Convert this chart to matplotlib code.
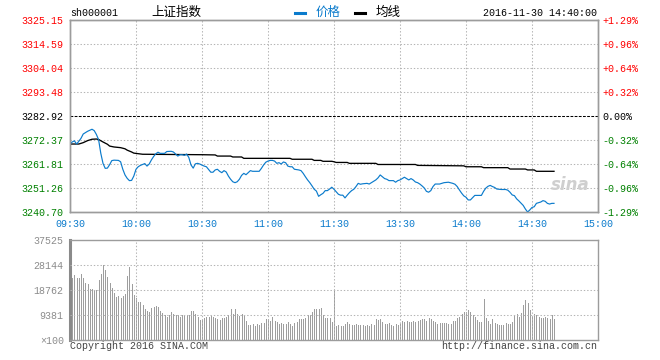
import matplotlib
matplotlib.use('Agg')
import matplotlib.pyplot as plt
from matplotlib.lines import Line2D

plt.rcParams['font.family'] = ['Liberation Mono', 'Noto Sans CJK SC', 'DejaVu Sans']
plt.rcParams['lines.scale_dashes'] = False

# --- data (minutes since 09:30, lunch break removed: 120 = 11:30/13:00) ---
price_t = [0, 1, 2, 3, 4, 5, 6, 8, 10, 11, 12, 13, 14, 15, 16, 17, 18, 19, 20, 22,
           23, 24, 25, 26, 27, 28, 29, 30, 31, 32, 33, 34, 35, 36, 37, 38, 39, 40, 41, 42,
           43, 44, 46, 47, 48, 49, 50, 51, 52, 53, 54, 55, 56, 57, 58, 59, 60, 61, 62, 63,
           64, 65, 66, 67, 68, 69, 70, 71, 72, 73, 74, 75, 76, 77, 78, 79, 80, 81, 82, 83,
           84, 86, 87, 88, 89, 90, 91, 92, 93, 94, 95, 96, 97, 98, 99, 100, 101, 102, 104, 105,
           106, 107, 108, 109, 110, 111, 112, 113, 114, 115, 116, 117, 118, 119, 120, 121, 122, 123, 124, 125,
           126, 127, 128, 129, 130, 131, 132, 133, 135, 136, 137, 138, 139, 140, 141, 142, 143, 144, 145, 147,
           148, 149, 150, 151, 152, 153, 154, 155, 156, 157, 158, 159, 160, 161, 162, 163, 164, 165, 166, 168,
           169, 170, 172, 174, 175, 176, 177, 178, 179, 180, 181, 182, 183, 184, 186, 187, 188, 189, 190, 191,
           192, 193, 194, 196, 198, 199, 200, 201, 202, 203, 204, 205, 206, 207, 208, 209, 210, 211, 212, 213,
           214, 215, 216, 217, 218, 219, 220]
price_val = [3270.6, 3271.5, 3272.0, 3270.6, 3271.8, 3273.1, 3275.0, 3276.2, 3277.1, 3276.5,
             3274.8, 3272.5, 3266.5, 3262.1, 3259.9, 3260.0, 3261.5, 3263.3, 3263.5, 3263.4,
             3262.8, 3259.5, 3257.0, 3255.5, 3254.5, 3254.6, 3256.5, 3259.5, 3260.6, 3261.2,
             3261.6, 3262.0, 3260.9, 3261.8, 3263.6, 3265.1, 3266.3, 3267.0, 3266.5, 3266.5,
             3266.5, 3267.3, 3267.4, 3267.1, 3266.2, 3265.3, 3265.9, 3265.9, 3265.6, 3266.2,
             3264.7, 3261.4, 3260.0, 3261.9, 3262.1, 3261.8, 3261.3, 3260.9, 3260.6, 3259.4,
             3258.2, 3258.2, 3259.2, 3259.5, 3258.6, 3258.0, 3258.9, 3258.3, 3256.5, 3255.1,
             3254.0, 3253.6, 3254.0, 3255.1, 3256.8, 3257.7, 3257.1, 3258.0, 3258.9, 3258.6,
             3258.6, 3258.6, 3259.9, 3261.4, 3262.6, 3263.1, 3263.4, 3263.4, 3263.1, 3262.1,
             3262.4, 3261.8, 3262.7, 3262.4, 3260.9, 3260.6, 3260.6, 3259.5, 3259.2, 3258.9,
             3257.7, 3256.2, 3254.8, 3253.6, 3252.2, 3250.7, 3249.9, 3247.6, 3248.3, 3248.9,
             3250.1, 3250.1, 3250.8, 3251.6, 3250.7, 3249.6, 3248.5, 3248.1, 3248.1, 3246.9,
             3248.1, 3249.2, 3250.1, 3250.7, 3251.9, 3253.3, 3252.9, 3253.1, 3253.3, 3253.0,
             3253.6, 3254.2, 3254.8, 3255.7, 3257.0, 3256.2, 3255.4, 3255.1, 3254.5, 3254.5,
             3253.8, 3254.5, 3254.8, 3255.4, 3256.0, 3255.4, 3254.8, 3255.4, 3254.8, 3253.9,
             3253.6, 3253.0, 3252.2, 3251.3, 3249.8, 3249.4, 3250.1, 3251.9, 3253.0, 3253.0,
             3253.3, 3253.6, 3253.8, 3253.3, 3252.9, 3251.9, 3250.4, 3249.0, 3247.8, 3247.2,
             3246.0, 3246.0, 3247.0, 3248.0, 3248.0, 3248.0, 3249.8, 3251.2, 3252.0, 3252.4,
             3251.9, 3251.5, 3250.8, 3250.6, 3250.6, 3250.3, 3249.4, 3248.2, 3247.9, 3246.5,
             3245.6, 3244.6, 3243.6, 3242.0, 3240.7, 3241.6, 3242.7, 3243.0, 3244.5, 3244.8,
             3245.1, 3245.7, 3245.4, 3244.5, 3244.2, 3244.5, 3244.5]

avg_t = [0, 4, 6, 8, 10, 12, 13, 15, 17, 18, 20, 23, 25, 26, 28, 29, 33, 60, 66, 67,
         73, 74, 78, 79, 100, 101, 110, 111, 114, 115, 119, 120, 121, 126, 127, 139, 140, 157, 158, 179,
         180, 187, 188, 199, 200, 207, 208, 211, 212, 220]
avg_val = [3270.6, 3270.6, 3271.2, 3272.1, 3272.7, 3272.8, 3272.6, 3271.5, 3270.5, 3269.7,
           3269.3, 3269.0, 3268.5, 3267.9, 3267.1, 3266.6, 3266.1, 3265.9, 3265.8, 3265.3,
           3265.3, 3264.9, 3264.9, 3264.3, 3264.3, 3263.9, 3263.9, 3263.4, 3263.4, 3263.0,
           3263.0, 3262.8, 3262.5, 3262.5, 3262.1, 3262.1, 3261.6, 3261.6, 3261.2, 3261.0,
           3260.6, 3260.6, 3260.2, 3260.2, 3259.6, 3259.6, 3259.2, 3259.2, 3258.6, 3258.6]

# volume per minute, 09:30 .. 14:40 (x100 shares)
volume = [20000, 23400, 24400, 23400, 23400, 24800, 23400, 21400, 20900, 19100,
          19100, 18800, 18800, 22500, 24800, 28100, 26300, 23500, 21400, 19500,
          17500, 16100, 16500, 15800, 16500, 17300, 24000, 27400, 21000, 16900,
          15900, 14300, 14300, 13100, 11600, 10900, 10600, 12000, 12400, 12800,
          12300, 10900, 10100, 9400, 8600, 9400, 10500, 9800, 9400, 9400,
          8600, 9400, 9400, 9400, 9400, 10900, 10900, 9800, 8600, 7500,
          7500, 8300, 8600, 8600, 9000, 8600, 8300, 7900, 7500, 8300,
          8300, 8600, 9400, 11600, 9800, 11600, 9600, 9000, 9600, 9000,
          7000, 5600, 5600, 6000, 5200, 6000, 5600, 6400, 6400, 7900,
          7900, 7000, 8600, 7000, 6700, 6000, 6400, 6000, 6000, 6700,
          6000, 5200, 6400, 6700, 8000, 8000, 8000, 8300, 9400, 9400,
          10600, 11600, 11600, 11600, 12000, 9400, 8300, 8300, 8300, 6800,
          18400,
          5200, 5600, 5200, 5200, 6000, 6700, 6000, 5600, 5600, 6000,
          5600, 5600, 5600, 5200, 5600, 5200, 6000, 5600, 7900, 7500,
          7900, 6700, 6000, 6000, 6400, 5600, 5200, 6000, 5600, 6000,
          7100, 6800, 7100, 6800, 6800, 7100, 6800, 7100, 7500, 7900,
          7900, 7100, 8300, 7900, 7100, 6800, 6000, 6400, 6400, 6400,
          6400, 6000, 6000, 7100, 7100, 8300, 8600, 9800, 10500, 10500,
          11300, 10500, 9400, 8600, 7500, 6800, 6800, 15400, 8300, 7100,
          6000, 7900, 6400, 6000, 5600, 5600, 5600, 6400, 6000, 6000,
          6800, 9400, 9800, 8600, 10100, 13100, 15000, 13900, 11300, 8600,
          9800, 9400, 8600, 8300, 8300, 8600, 8300, 7900, 9400, 7900]

prev_close = 3282.92
price_ticks = [3325.15, 3314.59, 3304.04, 3293.48, 3282.92, 3272.37, 3261.81, 3251.26, 3240.70]
pct_labels = ['+1.29%', '+0.96%', '+0.64%', '+0.32%', '0.00%', '-0.32%', '-0.64%', '-0.96%', '-1.29%']
time_ticks = [0, 30, 60, 90, 120, 150, 180, 210, 240]
time_labels = ['09:30', '10:00', '10:30', '11:00', '11:30', '13:30', '14:00', '14:30', '15:00']
vol_ticks = [37525, 28144, 18762, 9381, 0]
vol_labels = ['37525', '28144', '18762', '9381', '\u00d7100']

BLUE = '#0b7bcc'
GRID = '#b4b4b4'
FRAME = '#9c9c9c'
FS = 7.2
W, H = 660, 360


def fx(x):
    return x / W


def fy(y):
    return 1 - y / H


def level_color(v):
    if abs(v - prev_close) < 0.005:
        return 'black'
    return 'red' if v > prev_close else 'green'


fig = plt.figure(figsize=(6.6, 3.6), dpi=100)
ax = fig.add_axes([fx(70), fy(212), 528 / W, 192 / H])
axv = fig.add_axes([fx(70), fy(340), 528 / W, 100 / H])

# price panel
ax.set_xlim(0, 240)
ax.set_ylim(price_ticks[-1], price_ticks[0])
for v in price_ticks[1:-1]:
    if abs(v - prev_close) < 0.005:
        ax.axhline(v, color='black', lw=0.75, ls=(0, (2, 1)), zorder=1)
    else:
        ax.axhline(v, color=GRID, lw=0.75, ls=(0, (1, 1.4)), zorder=1)
for t in time_ticks[1:-1]:
    ax.axvline(t, color=GRID, lw=0.75, ls=(0, (1, 1.4)), zorder=1)

ax.plot(avg_t, avg_val, color='black', lw=0.95, zorder=3)
ax.plot(price_t, price_val, color=BLUE, lw=0.85, zorder=4)

ax.set_yticks(price_ticks)
ax.set_yticklabels(['%.2f' % v for v in price_ticks], fontsize=FS)
for lab, v in zip(ax.get_yticklabels(), price_ticks):
    lab.set_color(level_color(v))
ax.set_xticks(time_ticks)
ax.set_xticklabels(time_labels, fontsize=FS, color=BLUE)
ax.tick_params(axis='y', length=0, pad=4.5)
ax.tick_params(axis='x', length=0, pad=5)

axr = ax.twinx()
axr.set_ylim(price_ticks[-1], price_ticks[0])
axr.set_yticks(price_ticks)
axr.set_yticklabels(pct_labels, fontsize=FS)
for lab, v in zip(axr.get_yticklabels(), price_ticks):
    lab.set_color(level_color(v))
axr.tick_params(axis='y', length=0, pad=3.5)

for a in (ax, axr):
    for s in a.spines.values():
        s.set_color(FRAME)
        s.set_linewidth(1.0)

ax.text(0.985, 0.14, 'sina', transform=ax.transAxes, ha='right', va='center',
        fontsize=12, fontstyle='italic', fontweight='bold', color='#cfcfcf',
        family='DejaVu Sans', zorder=2)

# volume panel
axv.set_xlim(0, 240)
axv.set_ylim(0, vol_ticks[0])
axv.bar(range(len(volume)), volume, width=0.45, align='edge', color='#9e9e9e', zorder=2)
for v in vol_ticks[1:-1]:
    axv.axhline(v, color=GRID, lw=0.75, ls=(0, (1, 1.4)), zorder=3)
for t in time_ticks[1:-1]:
    axv.axvline(t, color=GRID, lw=0.75, ls=(0, (1, 1.4)), zorder=3)
axv.set_xticks([])
axv.set_yticks(vol_ticks)
axv.set_yticklabels(vol_labels, fontsize=FS, color='#8c8c8c')
axv.tick_params(axis='y', length=0, pad=4.5)
for s in axv.spines.values():
    s.set_color(FRAME)
    s.set_linewidth(1.0)
axv.spines['left'].set_linewidth(2.2)
axv.spines['left'].set_color('#8a8a8a')

# header and footer
fig.text(fx(70), fy(12.5), 'sh000001', fontsize=FS, ha='left', va='center')
fig.text(fx(176), fy(12.5), '上证指数', family=['Noto Sans CJK SC'], fontsize=9,
         ha='center', va='center')
fig.add_artist(Line2D([fx(295), fx(305)], [fy(12.5)] * 2, color=BLUE, lw=2.2))
fig.text(fx(316), fy(12.5), '价格', family=['Noto Sans CJK SC'], fontsize=9,
         color=BLUE, ha='left', va='center')
fig.add_artist(Line2D([fx(355), fx(365)], [fy(12.5)] * 2, color='black', lw=2.2))
fig.text(fx(376), fy(12.5), '均线', family=['Noto Sans CJK SC'], fontsize=9,
         ha='left', va='center')
fig.text(fx(597), fy(12.5), '2016-11-30 14:40:00', fontsize=FS, ha='right', va='center')
fig.text(fx(70), fy(346), 'Copyright 2016 SINA.COM', fontsize=FS, color='#444444',
         ha='left', va='center')
fig.text(fx(597), fy(346), 'http://finance.sina.com.cn', fontsize=FS, color='#444444',
         ha='right', va='center')

fig.savefig('out.png', dpi=100)
